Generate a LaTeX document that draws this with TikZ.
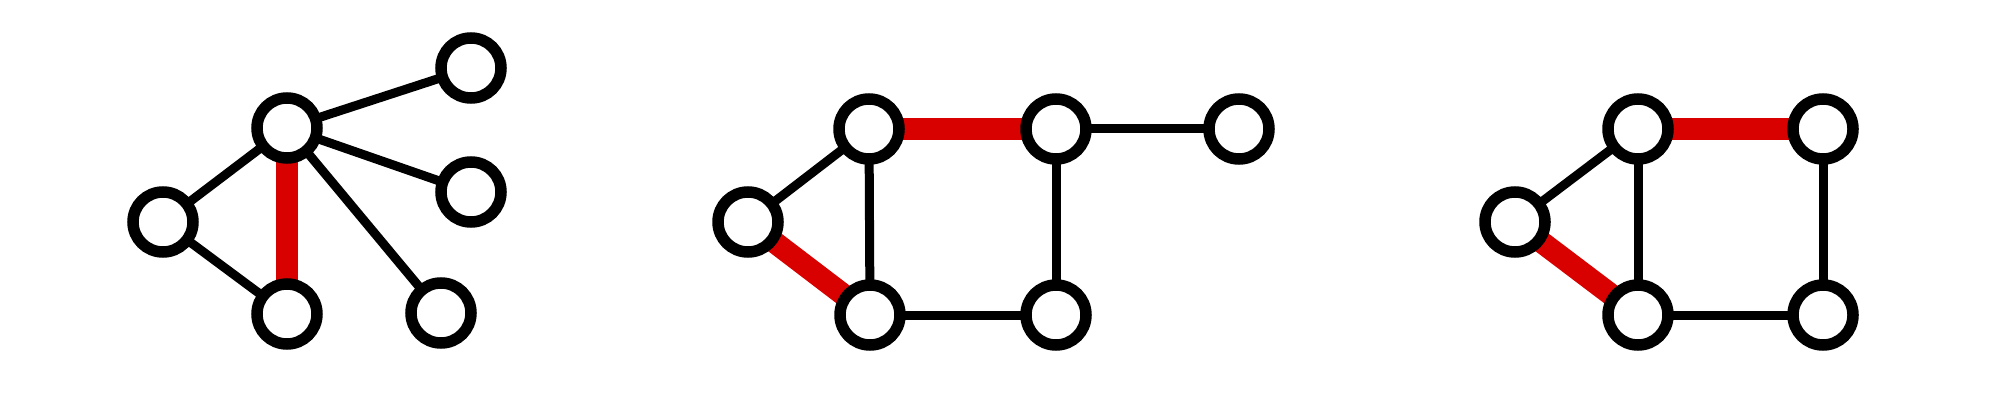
\documentclass[tikz,border=0pt]{standalone}
\usetikzlibrary{backgrounds}
\begin{document}
\begin{tikzpicture}[x=1pt,y=-1pt,
  vtx/.style={circle,draw=black,fill=white,line width=11.5pt,minimum size=60pt,inner sep=0pt},
  edge/.style={draw=black,line width=9pt},
  redge/.style={draw=red!85!black,line width=22pt}]
\useasboundingbox (0,0) rectangle (2000,401);
% graph 1
\node[vtx] (a1) at (287,128) {};
\node[vtx] (a2) at (163,222) {};
\node[vtx] (a3) at (287,314) {};
\node[vtx] (a4) at (471,68) {};
\node[vtx] (a5) at (471,192) {};
\node[vtx] (a6) at (441,313) {};
% graph 2
\node[vtx] (b1) at (748,222) {};
\node[vtx] (b2) at (869,129) {};
\node[vtx] (b3) at (1056,129) {};
\node[vtx] (b4) at (1239,129) {};
\node[vtx] (b5) at (870,315) {};
\node[vtx] (b6) at (1056,315) {};
% graph 3
\node[vtx] (c1) at (1515,222) {};
\node[vtx] (c2) at (1638,129) {};
\node[vtx] (c3) at (1823,129) {};
\node[vtx] (c4) at (1638,315) {};
\node[vtx] (c5) at (1823,315) {};
\begin{pgfonlayer}{background}
\fill[white] (0,0) rectangle (2000,401);
\path[edge] (a1.center) -- (a2.center);
\path[edge] (a2.center) -- (a3.center);
\path[redge] (a1.center) -- (a3.center);
\path[edge] (a1.center) -- (a4.center);
\path[edge] (a1.center) -- (a5.center);
\path[edge] (a1.center) -- (a6.center);
\path[edge] (b1.center) -- (b2.center);
\path[redge] (b1.center) -- (b5.center);
\path[redge] (b2.center) -- (b3.center);
\path[edge] (b2.center) -- (b5.center);
\path[edge] (b3.center) -- (b4.center);
\path[edge] (b3.center) -- (b6.center);
\path[edge] (b5.center) -- (b6.center);
\path[edge] (c1.center) -- (c2.center);
\path[redge] (c1.center) -- (c4.center);
\path[redge] (c2.center) -- (c3.center);
\path[edge] (c2.center) -- (c4.center);
\path[edge] (c3.center) -- (c5.center);
\path[edge] (c4.center) -- (c5.center);
\end{pgfonlayer}
\end{tikzpicture}
\end{document}
